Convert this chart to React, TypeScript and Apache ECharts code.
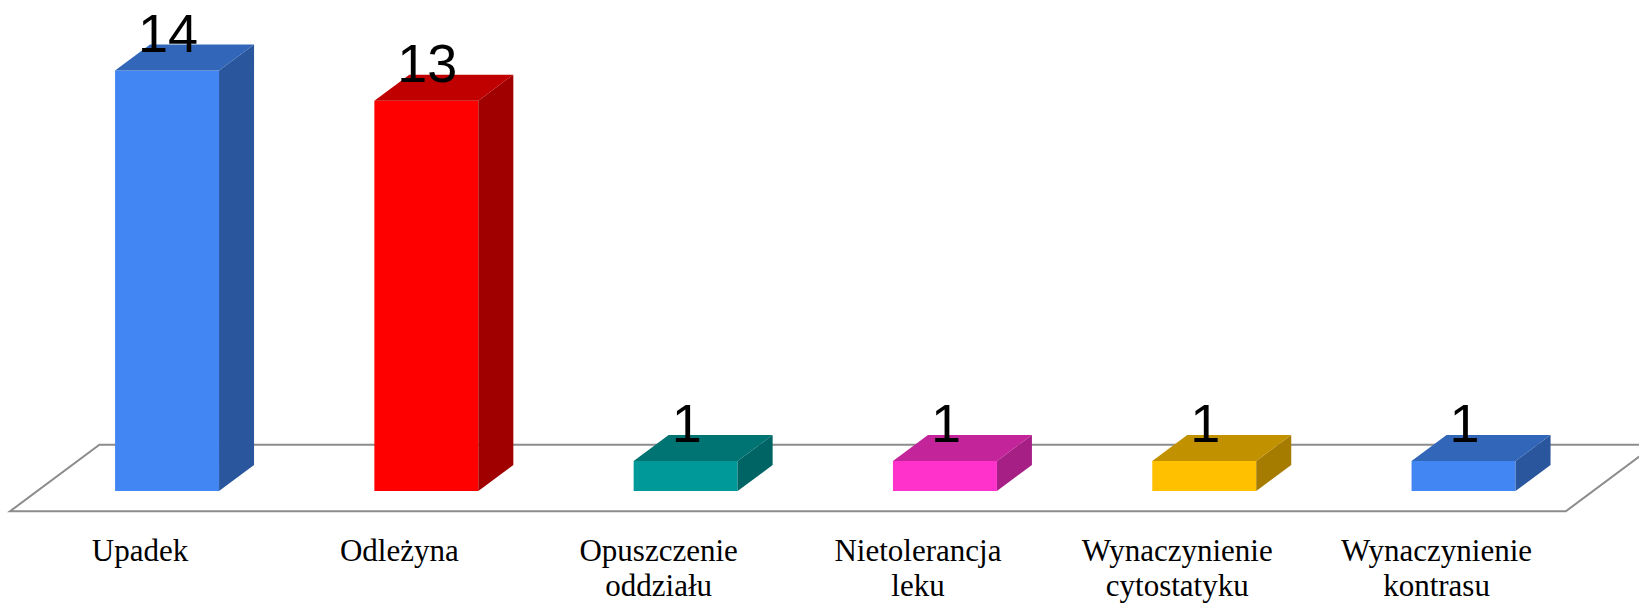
import React, { useEffect, useRef } from "react";
import * as echarts from "echarts";

const categories: string[] = [
  "Upadek",
  "Odleżyna",
  "Opuszczenie\noddziału",
  "Nietolerancja\nleku",
  "Wynaczynienie\ncytostatyku",
  "Wynaczynienie\nkontrasu",
];
const values: number[] = [14, 13, 1, 1, 1, 1];

const frontColors = ["#4286F4", "#FF0000", "#009999", "#FF33CC", "#FFC000", "#4286F4"];
const topColors = ["#3166B8", "#C00000", "#007373", "#C32499", "#C29100", "#3166B8"];
const sideColors = ["#2A569E", "#A00000", "#006464", "#A61F85", "#A67C00", "#2A569E"];

// 3D projection constants (pixels)
const DEPTH_DX = 35;
const DEPTH_DY = 26;
const FLOOR_FRONT_DX = -27.4;
const FLOOR_FRONT_DY = 20.3;
const FLOOR_BACK_DX = 62;
const FLOOR_BACK_DY = -46.2;
const BAR_RATIO = 0.401;

export default function App() {
  const ref = useRef<HTMLDivElement>(null);
  useEffect(() => {
    document.body.style.margin = "0";
    if (!ref.current) return;
    const chart = echarts.init(ref.current, null, { renderer: "svg" });
    const n = categories.length;
    const option: any = {
      animation: false,
      backgroundColor: "#ffffff",
      grid: { left: 37.4, right: 45.8, top: 70.6, bottom: 110.3 },
      xAxis: {
        type: "category",
        data: categories,
        axisLine: { show: false },
        axisTick: { show: false },
        splitLine: { show: false },
        axisLabel: {
          interval: 0,
          margin: 42,
          color: "#000000",
          fontFamily: "Liberation Serif",
          fontSize: 31,
          lineHeight: 35,
          formatter: (v: string) =>
            v
              .split("\n")
              .map((l) => `{a|${l}}`)
              .join("\n"),
          rich: {
            a: {
              fontFamily: "Liberation Serif",
              fontSize: 31,
              lineHeight: 35,
              color: "#000000",
              padding: [0, 54, 0, 0],
            },
          },
        },
      },
      yAxis: {
        type: "value",
        min: 0,
        max: 14,
        show: false,
        splitLine: { show: false },
      },
      series: [
        {
          type: "custom",
          z: 1,
          silent: true,
          data: [[0, 0]],
          renderItem: (params: any, api: any) => {
            const band = api.size([1, 0])[0];
            const p0 = api.coord([0, 0]);
            const p1 = api.coord([n - 1, 0]);
            const xl = p0[0] - band / 2;
            const xr = p1[0] + band / 2;
            const y0 = p0[1];
            return {
              type: "polygon",
              shape: {
                points: [
                  [xl + FLOOR_FRONT_DX, y0 + FLOOR_FRONT_DY],
                  [xr + FLOOR_FRONT_DX, y0 + FLOOR_FRONT_DY],
                  [xr + FLOOR_BACK_DX, y0 + FLOOR_BACK_DY],
                  [xl + FLOOR_BACK_DX, y0 + FLOOR_BACK_DY],
                ],
              },
              style: { fill: "#ffffff", stroke: "#8C8C8C", lineWidth: 2 },
            };
          },
        },
        {
          type: "custom",
          z: 2,
          data: values.map((v, i) => [i, v]),
          renderItem: (params: any, api: any) => {
            const i = api.value(0);
            const v = api.value(1);
            const band = api.size([1, 0])[0];
            const base = api.coord([i, 0]);
            const top = api.coord([i, v]);
            const bw = band * BAR_RATIO;
            const x1 = base[0] - bw / 2;
            const x2 = base[0] + bw / 2;
            const yb = base[1];
            const yt = top[1];
            return {
              type: "group",
              children: [
                {
                  type: "rect",
                  shape: { x: x1, y: yt, width: bw, height: yb - yt },
                  style: { fill: frontColors[i] },
                },
                {
                  type: "polygon",
                  shape: {
                    points: [
                      [x2, yt],
                      [x2 + DEPTH_DX, yt - DEPTH_DY],
                      [x2 + DEPTH_DX, yb - DEPTH_DY],
                      [x2, yb],
                    ],
                  },
                  style: { fill: sideColors[i] },
                },
                {
                  type: "polygon",
                  shape: {
                    points: [
                      [x1, yt],
                      [x1 + DEPTH_DX, yt - DEPTH_DY],
                      [x2 + DEPTH_DX, yt - DEPTH_DY],
                      [x2, yt],
                    ],
                  },
                  style: { fill: topColors[i] },
                },
                {
                  type: "text",
                  x: base[0] + 1,
                  y: yt - 38,
                  style: {
                    text: String(v),
                    fill: "#000000",
                    font: '54px "Liberation Sans", Arial, sans-serif',
                    align: "center",
                    verticalAlign: "middle",
                  },
                },
              ],
            };
          },
        },
      ],
    };
    chart.setOption(option);
    return () => chart.dispose();
  }, []);
  return <div ref={ref} style={{ width: 1639, height: 603 }} />;
}
